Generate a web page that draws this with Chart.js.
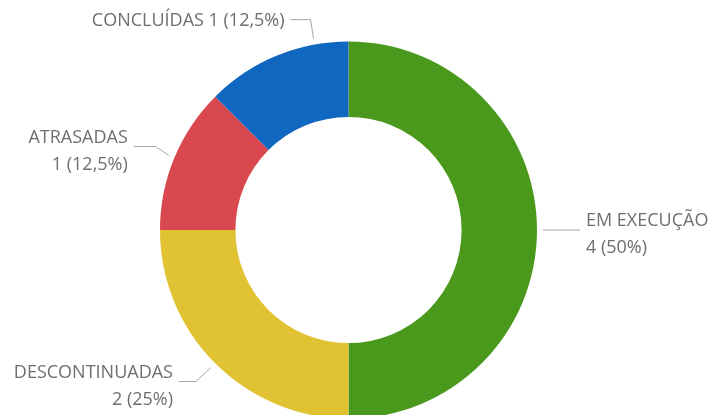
<!DOCTYPE html>
<html>
<head>
<meta charset="utf-8">
<script src="https://cdn.jsdelivr.net/npm/chart.js@4.4.1/dist/chart.umd.min.js"></script>
<style>
  html, body { margin: 0; padding: 0; background: #ffffff; overflow: hidden; }
  #wrap { width: 713px; height: 415px; overflow: hidden; position: relative; }
  canvas { display: block; }
</style>
</head>
<body>
<div id="wrap"><canvas id="c" width="713" height="460"></canvas></div>
<script>
// ---- data ----
const categories = ["EM EXECUÇÃO", "DESCONTINUADAS", "ATRASADAS", "CONCLUÍDAS"];
const values = [4, 2, 1, 1];
const percentLabels = ["50%", "25%", "12,5%", "12,5%"];
const colors = ["#4a991c", "#e1c232", "#d9474f", "#1067c0"];

// ---- label styling (positions relative to each arc) ----
const labelStyles = [
  { frac: 0.5,  elbow: [0, 0],    hlen: 37, side: "right", twoLines: true },
  { frac: 0.5,  elbow: [-15, 14], hlen: 17, side: "left",  twoLines: true },
  { frac: 0.5,  elbow: [-13, -9], hlen: 22, side: "left",  twoLines: true },
  { frac: 0.77, elbow: [-3, -19], hlen: 20, side: "left",  twoLines: false }
];

const leaderPlugin = {
  id: "leaders",
  afterDraw(chart) {
    const ctx = chart.ctx;
    const meta = chart.getDatasetMeta(0);
    ctx.save();
    ctx.font = '18px "Open Sans"';
    ctx.textBaseline = "middle";
    meta.data.forEach((arc, i) => {
      const st = labelStyles[i];
      const a = arc.startAngle + st.frac * (arc.endAngle - arc.startAngle);
      const r = arc.outerRadius + 6;
      const px = arc.x + Math.cos(a) * r;
      const py = arc.y + Math.sin(a) * r;
      const ex = px + st.elbow[0];
      const ey = py + st.elbow[1];
      const dir = st.side === "right" ? 1 : -1;
      const hx = ex + dir * st.hlen;
      ctx.strokeStyle = "#a6a6a6";
      ctx.lineWidth = 1;
      ctx.beginPath();
      ctx.moveTo(px, py);
      ctx.lineTo(ex, ey);
      ctx.lineTo(hx, ey);
      ctx.stroke();
      ctx.fillStyle = "#6e6e6e";
      ctx.textAlign = st.side === "right" ? "left" : "right";
      const tx = hx + dir * 6;
      const valText = values[i] + " (" + percentLabels[i] + ")";
      if (st.twoLines) {
        ctx.fillText(categories[i], tx, ey - 9);
        ctx.fillText(valText, tx, ey + 18);
      } else {
        ctx.fillText(categories[i] + " " + valText, tx, ey + 1);
      }
    });
    ctx.restore();
  }
};

new Chart(document.getElementById("c"), {
  type: "doughnut",
  data: {
    labels: categories,
    datasets: [{
      data: values,
      backgroundColor: colors,
      borderWidth: 0,
      hoverOffset: 0
    }]
  },
  options: {
    responsive: false,
    devicePixelRatio: 1,
    animation: false,
    cutout: "60%",
    layout: { padding: { left: 160, right: 176, top: 41.5, bottom: 41.5 } },
    plugins: {
      legend: { display: false },
      tooltip: { enabled: false }
    }
  },
  plugins: [leaderPlugin]
});
</script>
</body>
</html>
